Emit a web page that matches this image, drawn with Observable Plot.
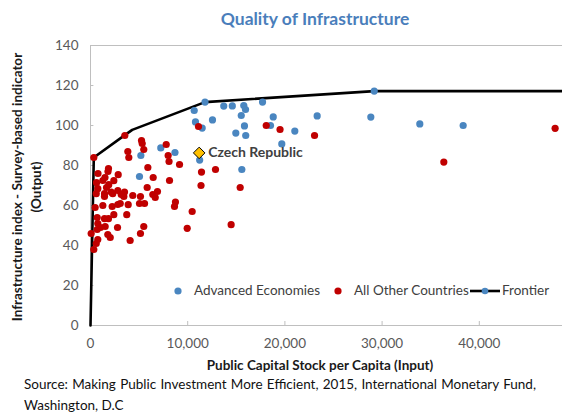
<!DOCTYPE html>
<html>
<head>
<meta charset="utf-8">
<script src="https://cdn.jsdelivr.net/npm/d3@7"></script>
<script src="https://cdn.jsdelivr.net/npm/@observablehq/plot@0.6"></script>
<style>
  html, body { margin: 0; padding: 0; background: #fff; }
  body { font-family: Lato, "Open Sans", sans-serif; }
  #wrap { position: relative; width: 562px; height: 417px; overflow: hidden; background: #fff; }
  #chart { position: absolute; left: 0; top: 0; }
  .title { position: absolute; top: 8px; left: 0; width: 630px; text-align: center;
           font-size: 17.5px; font-weight: bold; color: #4a7ebb; }
  .ytitle { position: absolute; left: -132px; top: 167px; width: 320px; height: 40px;
            transform: rotate(-90deg); text-align: center; font-size: 13.5px; font-weight: bold;
            color: #1a1a1a; line-height: 19px; }
  .xtitle { position: absolute; top: 357px; left: 0; width: 640px; text-align: center;
            font-size: 13.5px; font-weight: bold; color: #1a1a1a; }
  .src1 { position: absolute; top: 376px; left: 24px; width: 512px; font-size: 13.5px; color: #111;
          text-align: justify; text-align-last: justify; white-space: nowrap; }
  .src2 { position: absolute; top: 397px; left: 24px; font-size: 13.5px; color: #111; }
  .leg { position: absolute; top: 282px; font-size: 13.5px; color: #404040; white-space: nowrap; }
  .leg svg { position: absolute; }
</style>
</head>
<body>
<div id="wrap">
  <div id="chart"></div>
  <div class="title">Quality of Infrastructure</div>
  <div class="ytitle">Infrastructure index - Survey-based indicator<br>(Output)</div>
  <div class="xtitle">Public Capital Stock per Capita (Input)</div>
  <div class="src1">Source: Making Public Investment More Efficient, 2015, International Monetary Fund,</div>
  <div class="src2">Washington, D.C</div>
  <div id="legend"></div>
</div>
<script>
// ---- Data ----
const xTicks = [0, 10000, 20000, 30000, 40000];
const yTicks = [0, 20, 40, 60, 80, 100, 120, 140];

const advancedEconomies = [
  [5180, 85], [7230, 88.8], [8690, 86.5], [5040, 74.5], [10670, 107.5],
  [11780, 111.7], [10800, 101.8], [11490, 98.7], [12550, 102.8], [13710, 109.7],
  [14590, 109.8], [15770, 110], [15950, 108], [17700, 111.7], [15510, 105],
  [15840, 99.8], [18520, 100], [18800, 104.3], [14950, 96.2], [15970, 95],
  [21020, 97.2], [19680, 90.8], [11230, 82.7], [15570, 78], [23320, 104.8],
  [28840, 104.2], [29190, 117.2], [33880, 100.8], [38340, 100]
];

const otherCountries = [
  [340, 84], [3530, 95], [3840, 87], [3940, 84], [5250, 92.5], [5320, 91],
  [5480, 88], [7790, 90.5], [7990, 85], [8080, 82], [9160, 80.5], [5900, 79],
  [6450, 74], [5830, 69], [6890, 67], [8130, 72.5], [770, 76], [1850, 78.5],
  [1800, 77], [2850, 75.4], [2400, 72.4], [1490, 74], [1270, 72.5], [1880, 70.4],
  [1650, 69], [620, 71.4], [750, 68.4], [590, 65.9], [2810, 67.5], [2130, 66.7],
  [1440, 65.9], [3500, 66.7], [4350, 65], [1440, 64.5], [2290, 65.9], [3160, 65.5],
  [3430, 64.5], [5140, 64.5], [6410, 65.5], [6660, 64], [480, 59], [1270, 60],
  [2230, 59.5], [2810, 60.5], [3060, 61], [3880, 60.4], [5040, 61], [5560, 61],
  [8640, 59.5], [8740, 61.7], [10460, 57], [690, 54], [1440, 53.4], [1850, 53.4],
  [2400, 55.4], [3730, 55.4], [750, 51], [1030, 49], [1510, 49.5], [2780, 49],
  [70, 46], [690, 48], [1780, 45.5], [2030, 44], [5480, 49.5], [5140, 46],
  [750, 43], [590, 41], [4080, 42.5], [340, 38], [9950, 48.6], [11420, 76.7],
  [12860, 78], [11370, 70], [15400, 69], [14470, 50.4], [11110, 99.5],
  [18080, 100], [19500, 98], [23050, 95], [36350, 81.7], [47800, 98.6]
];

const frontier = [
  [0, 0], [340, 84], [3530, 95.2], [4290, 97.8], [11780, 111.7], [29190, 117.2], [48560, 117.2]
];

const czech = [{name: "Czech Republic", x: 11180, y: 86.3}];

const seriesNames = ["Advanced Economies", "All Other Countries", "Frontier"];
const colors = {adv: "#4a86c0", other: "#c00000", frontier: "#000000"};

// ---- Chart ----
const chart = Plot.plot({
  width: 562,
  height: 417,
  marginLeft: 90,
  marginRight: 0,
  marginTop: 45,
  marginBottom: 92,
  x: {domain: [0, 48560]},
  y: {domain: [0, 140]},
  style: {fontFamily: "Lato, 'Open Sans', sans-serif", fontSize: "13.5px", color: "#595959", background: "transparent", overflow: "visible"},
  marks: [
    Plot.ruleY([0, 140], {stroke: "#bfbfbf", strokeWidth: 1}),
    Plot.ruleX([0], {stroke: "#bfbfbf", strokeWidth: 1}),
    Plot.ruleX(xTicks, {y1: 0, y2: 2, stroke: "#bfbfbf"}),
    Plot.ruleY(yTicks, {x1: 0, x2: 350, stroke: "#bfbfbf"}),
    Plot.axisX(xTicks, {tickSize: 0, tickPadding: 13, tickFormat: d3.format(","), label: null, fill: "#595959"}),
    Plot.axisY(yTicks, {tickSize: 0, tickPadding: 12, label: null, fill: "#595959"}),
    Plot.line(frontier, {x: d => d[0], y: d => d[1], stroke: colors.frontier, strokeWidth: 2.6, curve: "linear"}),
    Plot.dot(advancedEconomies, {x: d => d[0], y: d => d[1], r: 3.6, fill: colors.adv, stroke: "none"}),
    Plot.dot(otherCountries, {x: d => d[0], y: d => d[1], r: 3.6, fill: colors.other, stroke: "none"}),
    Plot.dot(czech, {x: "x", y: "y", symbol: "diamond2", r: 5.2, fill: "#ffc000", stroke: "#000", strokeWidth: 1}),
    Plot.text(czech, {x: "x", y: "y", text: "name", dx: 9, textAnchor: "start", fontWeight: "bold", fill: "#404040", fontSize: 14})
  ]
});
document.getElementById("chart").appendChild(chart);

// ---- Legend ----
const legend = document.getElementById("legend");
const items = [
  {name: seriesNames[0], left: 173, type: "dot", color: colors.adv, textLeft: 194},
  {name: seriesNames[1], left: 333, type: "dot", color: colors.other, textLeft: 354},
  {name: seriesNames[2], left: 470, type: "line", color: colors.adv, textLeft: 502}
];
items.forEach(it => {
  const sym = document.createElementNS("http://www.w3.org/2000/svg", "svg");
  const w = it.type === "line" ? 30 : 10;
  sym.setAttribute("width", w); sym.setAttribute("height", 10);
  sym.style.position = "absolute";
  sym.style.left = it.left + "px"; sym.style.top = "286px";
  if (it.type === "line") {
    sym.innerHTML = `<line x1="0" y1="5" x2="${w}" y2="5" stroke="#000" stroke-width="2.6"/><circle cx="${w/2}" cy="5" r="3.3" fill="${it.color}"/>`;
  } else {
    sym.innerHTML = `<circle cx="5" cy="5" r="3.6" fill="${it.color}"/>`;
  }
  legend.appendChild(sym);
  const t = document.createElement("div");
  t.className = "leg";
  t.style.left = it.textLeft + "px";
  t.textContent = it.name;
  legend.appendChild(t);
});
</script>
</body>
</html>
